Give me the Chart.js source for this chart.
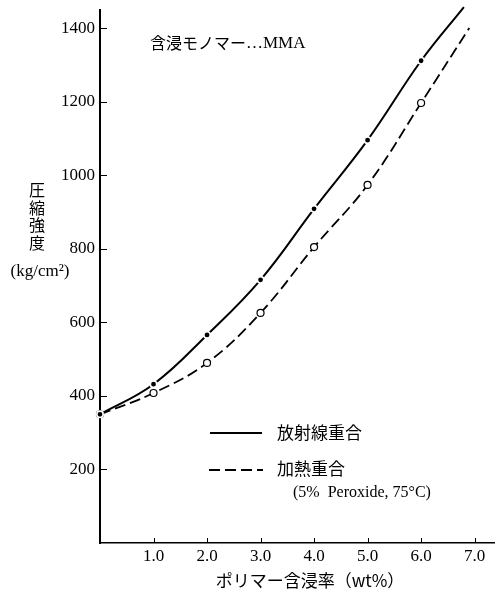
<!DOCTYPE html>
<html>
<head>
<meta charset="utf-8">
<script src="https://cdn.jsdelivr.net/npm/chart.js@4.4.0/dist/chart.umd.min.js"></script>
<style>
html,body{margin:0;padding:0;background:#fff;}
</style>
</head>
<body>
<canvas id="chart" width="500" height="596"></canvas>
<script>
// ポリマー含浸率 (wt%) vs 圧縮強度 (kg/cm2); last entry of each series = end of the drawn curve
var radiationX = [0, 1.0, 2.0, 3.0, 4.0, 5.0, 6.0, 6.8];
var radiationY = [350, 432, 566, 716, 909, 1096, 1312, 1458];
var heatX = [0, 1.0, 2.0, 3.0, 4.0, 5.0, 6.0, 6.9];
var heatY = [350, 408, 490, 626, 805, 974, 1197, 1401];
var xTicks = [1, 2, 3, 4, 5, 6, 7];
var yTicks = [200, 400, 600, 800, 1000, 1200, 1400];

var serif = '"Liberation Serif", "DejaVu Serif", serif';
var cjk = '"Noto Sans CJK JP", sans-serif';

function toPoints(xs, ys) {
	return xs.map(function (x, i) { return { x: x, y: ys[i] }; });
}
// no marker on the curve's end point
function markerSize(r) {
	return function (c) { return c.dataIndex === c.dataset.data.length - 1 ? 0 : r; };
}

var extras = {
	id: 'extras',
	afterDraw: function (chart) {
		var ctx = chart.ctx, xs = chart.scales.x, ys = chart.scales.y;
		ctx.save();
		ctx.strokeStyle = '#000';
		ctx.fillStyle = '#000';
		// inward ticks
		ctx.lineWidth = 1;
		ctx.beginPath();
		yTicks.forEach(function (v) {
			var py = Math.round(ys.getPixelForValue(v)) + 0.5;
			ctx.moveTo(xs.left, py); ctx.lineTo(xs.left + 7, py);
		});
		xTicks.forEach(function (v) {
			var px = Math.round(xs.getPixelForValue(v)) + 0.5;
			ctx.moveTo(px, ys.bottom); ctx.lineTo(px, ys.bottom - 5);
		});
		ctx.stroke();

		// legend
		ctx.lineWidth = 2;
		ctx.beginPath(); ctx.moveTo(210, 433); ctx.lineTo(262, 433); ctx.stroke();
		ctx.lineWidth = 1.8;
		ctx.setLineDash([11, 5]);
		ctx.beginPath(); ctx.moveTo(209, 470); ctx.lineTo(263, 470); ctx.stroke();
		ctx.setLineDash([]);

		ctx.textBaseline = 'middle';
		ctx.textAlign = 'left';
		ctx.font = '17px ' + cjk;
		ctx.fillText('放射線重合', 277, 433);
		ctx.fillText('加熱重合', 277, 469);
		ctx.font = '16px ' + serif;
		ctx.fillText('(5%  Peroxide, 75°C)', 293, 493);

		// monomer note
		ctx.font = '16px ' + cjk;
		ctx.fillText('含浸モノマー', 150, 43);
		var w = ctx.measureText('含浸モノマー').width;
		ctx.font = '17px ' + serif;
		ctx.fillText('…MMA', 150 + w, 44);

		// y title (vertical)
		ctx.textAlign = 'center';
		ctx.font = '16px ' + cjk;
		['圧', '縮', '強', '度'].forEach(function (ch, i) {
			ctx.fillText(ch, 37, 190 + i * 17.5);
		});
		ctx.font = '17px ' + serif;
		ctx.fillText('(kg/cm²)', 40, 272);

		// x title
		ctx.font = '17px ' + cjk;
		ctx.fillText('ポリマー含浸率（wt%）', 310, 581);
		ctx.restore();
	}
};

new Chart(document.getElementById('chart'), {
	type: 'scatter',
	data: {
		datasets: [
			{
				label: '放射線重合',
				data: toPoints(radiationX, radiationY),
				showLine: true,
				borderColor: '#000',
				borderWidth: 2,
				tension: 0.4,
				pointRadius: markerSize(3.2),
				pointBackgroundColor: '#000',
				pointBorderColor: '#fff',
				pointBorderWidth: 1.6,
				clip: false
			},
			{
				label: '加熱重合',
				data: toPoints(heatX, heatY),
				showLine: true,
				borderColor: '#000',
				borderWidth: 1.8,
				borderDash: [11, 5],
				tension: 0.4,
				pointRadius: markerSize(3.5),
				pointBackgroundColor: '#fff',
				pointBorderColor: '#000',
				pointBorderWidth: 1.2,
				clip: false
			}
		]
	},
	options: {
		responsive: false,
		animation: false,
		layout: { padding: { left: 0, right: 0, top: 10, bottom: 0 } },
		plugins: { legend: { display: false }, tooltip: { enabled: false } },
		scales: {
			x: {
				type: 'linear', min: 0, max: 7.37,
				afterBuildTicks: function (s) { s.ticks = xTicks.map(function (v) { return { value: v }; }); },
				afterFit: function (s) { s.height = 53; s.paddingLeft = 0; s.paddingRight = 0; },
				ticks: {
					callback: function (v) { return v.toFixed(1); },
					font: { family: serif, size: 17 }, color: '#000',
					padding: 3, maxRotation: 0, autoSkip: false
				},
				grid: { drawOnChartArea: false, drawTicks: false },
				border: { color: '#000', width: 1.5 }
			},
			y: {
				min: 0, max: 1450,
				afterBuildTicks: function (s) { s.ticks = yTicks.map(function (v) { return { value: v }; }); },
				afterFit: function (s) { s.width = 100; s.paddingTop = 0; s.paddingBottom = 0; },
				ticks: {
					callback: function (v) { return String(v); },
					font: { family: serif, size: 17 }, color: '#000', padding: 5
				},
				grid: { drawOnChartArea: false, drawTicks: false },
				border: { color: '#000', width: 2 }
			}
		}
	},
	plugins: [extras]
});
</script>
</body>
</html>
